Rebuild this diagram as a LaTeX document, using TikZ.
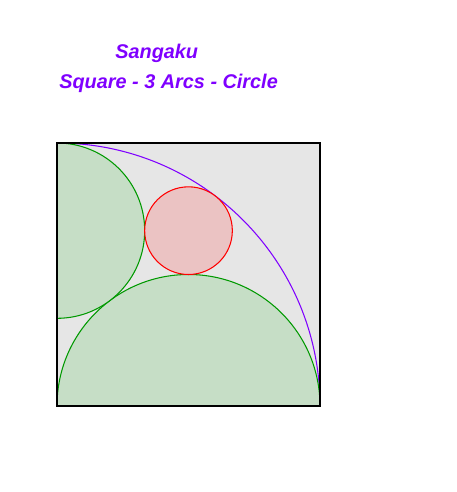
\documentclass[tikz,border=0pt]{standalone}
\usepackage{fontspec}
\setmainfont{Liberation Sans}
\usepackage{tikz}

\definecolor{sqgray}{HTML}{E6E6E6}
\definecolor{arcpurple}{HTML}{7F00FF}
\definecolor{arcgreen}{HTML}{009900}
\definecolor{fillgreen}{HTML}{C6DEC6}
\definecolor{fillred}{HTML}{EBC3C3}

\tikzset{
    title/.style={anchor=base west, inner sep=0pt, text=arcpurple,
        font=\fontsize{11.3}{13.5}\selectfont\bfseries\itshape},
    lune/.style={draw=arcgreen, fill=fillgreen, line width=0.6pt}
}

\begin{document}
\begin{tikzpicture}[x=0.02cm, y=0.02cm]
        \useasboundingbox (0, 0) rectangle (456, 492);

        \node[title] (sangaku) at (115, 433) {Sangaku};
        \node[title] (subtitle) at (59, 403) {Square - 3 Arcs - Circle};

        \begin{scope}[shift={(57, 86)}]
            \fill[sqgray] (0, 0) rectangle (263, 263);
            \draw[arcpurple, line width=0.6pt] (0, 263) arc[start angle=90, end angle=0, radius=263];
            \draw[lune] (0, 0) arc[start angle=180, end angle=0, radius=131.5] -- cycle;
            \draw[lune] (0, 263) arc[start angle=90, end angle=-90, radius=87.667] -- cycle;
            \draw[red, fill=fillred, line width=0.6pt] (131.5, 175.333) circle[radius=43.833];
            \draw[black, line width=0.65pt] (0, 0) rectangle (263, 263);
        \end{scope}
    \end{tikzpicture}
\end{document}
